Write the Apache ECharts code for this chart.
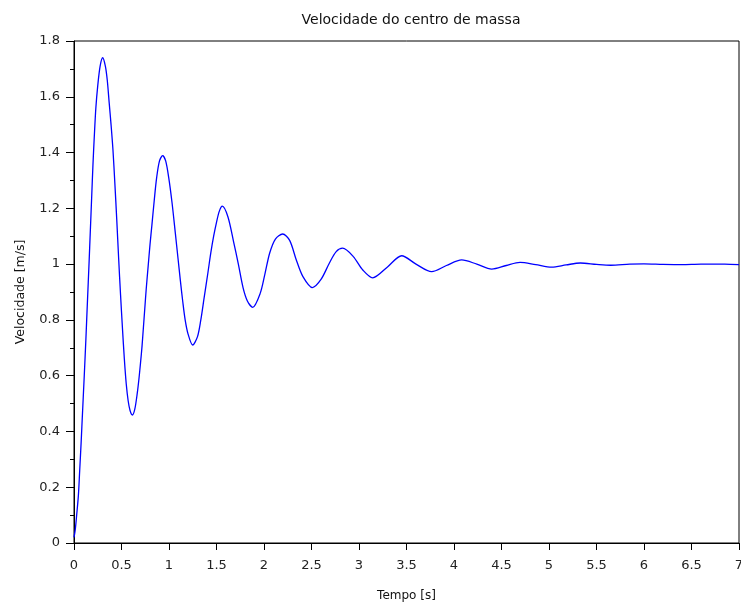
<!DOCTYPE html>
<html>
<head>
<meta charset="utf-8">
<title>Velocidade do centro de massa</title>
<script src="https://cdn.jsdelivr.net/npm/echarts@6/dist/echarts.min.js"></script>
<style>
    html, body {
        margin: 0;
        padding: 0;
        background: #fff;
    }

    #chart {
        width: 741px;
        height: 608px;
    }
</style>
</head>
<body>
<div id="chart"></div>
<script>
// tempo [s] e velocidade [m/s]
const tempo = [
    0, 0.014, 0.028, 0.046, 0.06, 0.075, 0.09, 0.108, 0.125, 0.142,
    0.158, 0.172, 0.186, 0.2, 0.214, 0.23, 0.25, 0.275, 0.302, 0.33,
    0.35, 0.37, 0.39, 0.41, 0.43, 0.45, 0.47, 0.49, 0.51, 0.53,
    0.55, 0.57, 0.59, 0.614, 0.64, 0.667, 0.684, 0.7, 0.716, 0.73,
    0.745, 0.76, 0.78, 0.8, 0.82, 0.845, 0.87, 0.9, 0.933, 0.965,
    0.997, 1.032, 1.067, 1.095, 1.12, 1.145, 1.17, 1.2, 1.249, 1.3,
    1.335, 1.37, 1.41, 1.44, 1.47, 1.5, 1.53, 1.561, 1.62, 1.68,
    1.73, 1.78, 1.825, 1.881, 1.96, 2.01, 2.06, 2.12, 2.196, 2.27,
    2.34, 2.41, 2.509, 2.6, 2.69, 2.76, 2.828, 2.94, 3.04, 3.144,
    3.3, 3.449, 3.6, 3.765, 3.92, 4.081, 4.24, 4.397, 4.55, 4.695,
    4.86, 5.028, 5.18, 5.33, 5.5, 5.65, 5.85, 6.0, 6.2, 6.4,
    6.6, 6.85, 7.0
];
const velocidade = [
    0.02, 0.05, 0.1, 0.17, 0.26, 0.36, 0.47, 0.6, 0.73, 0.87,
    1.0, 1.12, 1.24, 1.36, 1.46, 1.56, 1.64, 1.71, 1.74, 1.71,
    1.66, 1.58, 1.5, 1.41, 1.29, 1.16, 1.02, 0.89, 0.77, 0.66,
    0.57, 0.51, 0.475, 0.459, 0.48, 0.54, 0.59, 0.645, 0.705, 0.77,
    0.84, 0.91, 0.99, 1.07, 1.14, 1.23, 1.31, 1.37, 1.389, 1.37,
    1.31, 1.22, 1.11, 1.02, 0.94, 0.865, 0.8, 0.75, 0.71, 0.74,
    0.8, 0.88, 0.97, 1.04, 1.1, 1.15, 1.19, 1.208, 1.17, 1.08,
    1.0, 0.915, 0.868, 0.845, 0.895, 0.965, 1.04, 1.09, 1.108, 1.085,
    1.015, 0.955, 0.916, 0.945, 1.005, 1.045, 1.057, 1.027, 0.979, 0.951,
    0.99, 1.03, 1.0, 0.973, 0.995, 1.015, 1.0, 0.982, 0.995, 1.006,
    0.998, 0.989, 0.997, 1.004, 0.999, 0.996, 1.0, 1.001, 0.999, 0.998,
    1.0, 1.0, 0.998
];

const FONT = '"DejaVu Sans", "Liberation Sans", sans-serif';

var points = [];
for (let i = 0; i < tempo.length; i++) {
    points.push([tempo[i], velocidade[i]]);
}

var chart = echarts.init(document.getElementById('chart'), null, { renderer: 'canvas' });
chart.setOption({
    animation: false,
    backgroundColor: '#fff',
    title: {
        text: 'Velocidade do centro de massa',
        left: 406,
        top: 8,
        textAlign: 'center',
        textStyle: {
            fontFamily: FONT,
            fontSize: 14,
            fontWeight: 'normal',
            color: '#111'
        }
    },
    grid: {
        left: 74,
        right: 2,
        top: 41,
        bottom: 65,
        outerBoundsMode: 'none',
        show: true,
        borderColor: '#000',
        borderWidth: 1,
        backgroundColor: '#fff'
    },
    xAxis: {
        type: 'value',
        min: 0,
        max: 7,
        interval: 0.5,
        name: 'Tempo [s]',
        nameLocation: 'middle',
        nameGap: 47,
        nameTextStyle: {
            fontFamily: FONT,
            fontSize: 12,
            color: '#111'
        },
        axisLine: { lineStyle: { color: '#000', width: 1 } },
        axisTick: { show: true, inside: false, length: 7, lineStyle: { color: '#000' } },
        axisLabel: {
            margin: 16,
            fontFamily: FONT,
            fontSize: 13,
            color: '#222',
            showMinLabel: true,
            showMaxLabel: true
        },
        splitLine: { show: false }
    },
    yAxis: {
        type: 'value',
        min: 0,
        max: 1.8,
        interval: 0.2,
        name: 'Velocidade [m/s]',
        nameLocation: 'middle',
        nameGap: 47,
        nameRotate: 90,
        nameTextStyle: {
            fontFamily: FONT,
            fontSize: 12.5,
            color: '#111'
        },
        axisLine: { show: true, lineStyle: { color: '#000', width: 1 } },
        axisTick: { show: true, inside: false, length: 8, lineStyle: { color: '#000' } },
        minorTick: { show: true, splitNumber: 2, length: 4, lineStyle: { color: '#000' } },
        axisLabel: {
            margin: 14,
            fontFamily: FONT,
            fontSize: 13,
            color: '#222'
        },
        splitLine: { show: false }
    },
    series: [{
        type: 'line',
        data: points,
        smooth: 0.3,
        showSymbol: false,
        clip: true,
        lineStyle: { color: '#0000ff', width: 1.3 }
    }]
});
</script>
</body>
</html>
